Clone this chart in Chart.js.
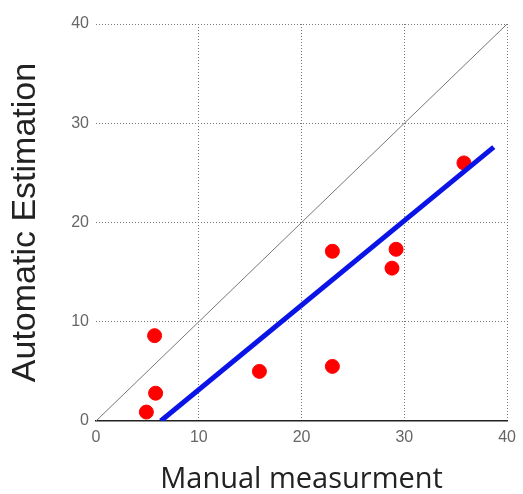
<!DOCTYPE html>
<html>
<head>
<meta charset="utf-8">
<script src="https://cdn.jsdelivr.net/npm/chart.js@4"></script>
<style>
  body { margin: 0; background: #fff; }
  #wrap { width: 523px; height: 494px; }
</style>
</head>
<body>
<div id="wrap"><canvas id="myChart"></canvas></div>
<script>
var manual = [4.9, 5.7, 5.8, 15.9, 23.0, 23.0, 28.8, 29.2, 35.8];
var automatic = [0.9, 8.6, 2.8, 5.0, 5.5, 17.1, 15.4, 17.3, 26.0];

// regression line ends
var fitX = [6.3, 38.7];
var fitY = [0, 27.6];

// y = x reference line
var diagX = [0, 40];
var diagY = [0, 40];

var tickValues = [0, 10, 20, 30, 40];

function toPoints(xs, ys) {
    var pts = [];
    for (var i = 0; i < xs.length; i++) {
        pts.push({ x: xs[i], y: ys[i] });
    }
    return pts;
}

function gridColor(c) {
    return c.tick && c.tick.value === 0 ? 'rgba(0,0,0,0)' : '#777';
}

const ctx = document.getElementById('myChart');

new Chart(ctx, {
    type: 'scatter',
    data: {
        datasets: [
            {
                label: 'Fit',
                data: toPoints(fitX, fitY),
                showLine: true,
                borderColor: '#0a14e6',
                borderWidth: 5,
                pointRadius: 0,
                order: 0
            },
            {
                label: 'Samples',
                data: toPoints(manual, automatic),
                backgroundColor: '#ff0000',
                borderColor: '#ff0000',
                pointRadius: 7,
                order: 1
            },
            {
                label: 'y = x',
                data: toPoints(diagX, diagY),
                showLine: true,
                borderColor: '#777777',
                borderWidth: 1,
                pointRadius: 0,
                order: 2
            }
        ]
    },
    options: {
        responsive: true,
        maintainAspectRatio: false,
        animation: false,
        layout: { padding: { top: 24, right: 15, left: 0, bottom: 0 } },
        plugins: {
            legend: { display: false },
            tooltip: { enabled: false }
        },
        scales: {
            x: {
                type: 'linear',
                min: 0,
                max: 40,
                afterFit: function (scale) { scale.height = 73; },
                afterBuildTicks: function (scale) {
                    scale.ticks = tickValues.map(function (v) { return { value: v }; });
                },
                border: { display: true, color: '#222', width: 1.5, dash: [1, 2] },
                grid: { drawTicks: false, color: gridColor, lineWidth: 1 },
                ticks: {
                    padding: 7,
                    color: '#666',
                    font: { family: 'Liberation Sans', size: 16 }
                },
                title: {
                    display: true,
                    text: 'Manual measurment',
                    color: '#222',
                    padding: 0,
                    font: { family: 'Open Sans', size: 29, lineHeight: 1 }
                }
            },
            y: {
                type: 'linear',
                min: 0,
                max: 40,
                afterFit: function (scale) { scale.width = 96; },
                afterBuildTicks: function (scale) {
                    scale.ticks = tickValues.map(function (v) { return { value: v }; });
                },
                border: { display: false, dash: [1, 2] },
                grid: { drawTicks: false, color: gridColor, lineWidth: 1 },
                ticks: {
                    padding: 7,
                    color: '#666',
                    font: { family: 'Liberation Sans', size: 16 }
                },
                title: {
                    display: true,
                    text: 'Automatic Estimation',
                    color: '#222',
                    padding: { top: 5 },
                    font: { family: 'Liberation Sans', size: 34 }
                }
            }
        }
    }
});
</script>
</body>
</html>
